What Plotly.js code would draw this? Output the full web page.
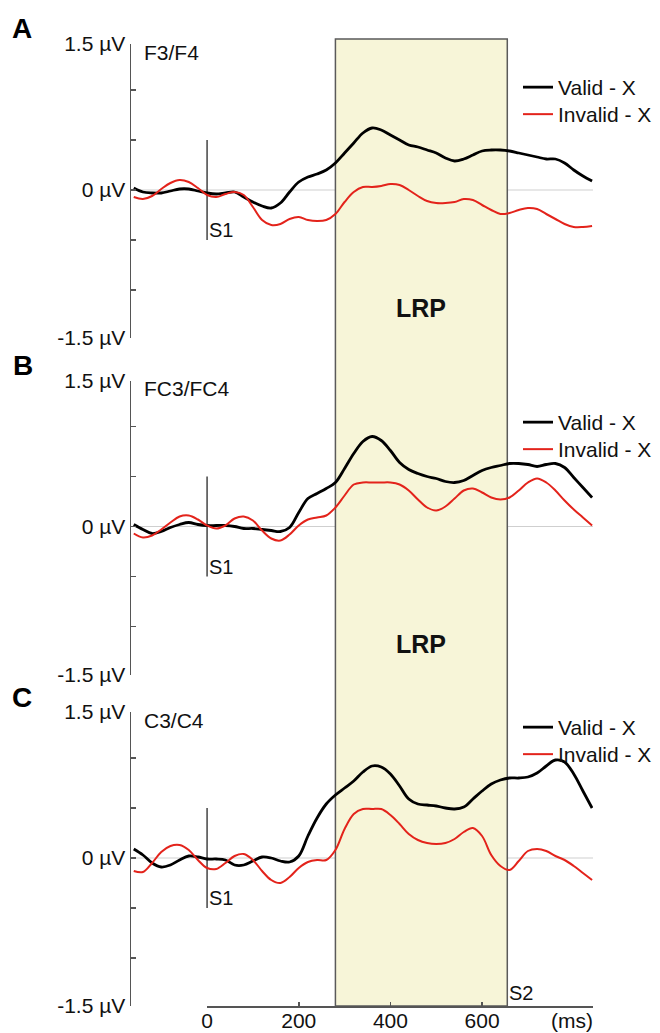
<!DOCTYPE html>
<html>
<head>
<meta charset="utf-8">
<script src="https://cdn.plot.ly/plotly-3.0.1.min.js"></script>
<style>
  html, body { margin: 0; padding: 0; background: #ffffff; }
  #chart { width: 660px; height: 1033px; }
</style>
</head>
<body>
<div id="chart"></div>
<script>
// ---------------- DATA ----------------
const timeMs = [-160,-140,-120,-100,-80,-60,-40,-20,0,20,40,60,80,100,120,140,160,180,200,220,
  240,260,280,300,320,340,360,380,400,420,440,460,480,500,520,540,560,580,600,620,
  640,660,680,700,720,740,760,780,800,820,840];

const panelNames = ["A", "B", "C"];
const channelNames = ["F3/F4", "FC3/FC4", "C3/C4"];
const seriesNames = ["Valid - X", "Invalid - X"];

// Panel A (F3/F4), µV
const validA = [0.02,-0.02,-0.03,-0.03,-0.01,0.01,0.01,-0.01,-0.03,-0.04,
  -0.03,-0.02,-0.07,-0.12,-0.16,-0.18,-0.13,-0.02,0.08,0.13,
  0.16,0.20,0.27,0.37,0.47,0.57,0.62,0.60,0.55,0.50,
  0.45,0.43,0.40,0.37,0.32,0.29,0.31,0.35,0.39,0.40,
  0.40,0.39,0.37,0.35,0.33,0.31,0.31,0.27,0.20,0.14,0.09];
const invalidA = [-0.07,-0.09,-0.06,0.01,0.07,0.10,0.08,0.02,-0.05,-0.07,
  -0.04,-0.02,-0.05,-0.17,-0.30,-0.35,-0.34,-0.29,-0.27,-0.30,
  -0.31,-0.30,-0.24,-0.12,-0.02,0.03,0.03,0.04,0.06,0.05,
  0.00,-0.06,-0.11,-0.13,-0.13,-0.12,-0.09,-0.10,-0.15,-0.20,
  -0.24,-0.23,-0.20,-0.18,-0.19,-0.24,-0.29,-0.34,-0.37,-0.37,-0.36];

// Panel B (FC3/FC4)
const validB = [0.02,-0.03,-0.07,-0.05,-0.01,0.02,0.04,0.02,0.01,0.01,
  0.01,0.00,-0.02,-0.02,-0.03,-0.04,-0.05,-0.01,0.14,0.28,
  0.33,0.38,0.44,0.58,0.73,0.85,0.90,0.86,0.76,0.64,
  0.57,0.53,0.50,0.48,0.45,0.44,0.46,0.51,0.56,0.59,
  0.61,0.63,0.63,0.62,0.60,0.62,0.63,0.59,0.49,0.39,0.29];
const invalidB = [-0.07,-0.11,-0.09,-0.03,0.04,0.10,0.11,0.07,0.01,-0.02,
  0.01,0.08,0.10,0.06,-0.04,-0.12,-0.14,-0.08,0.01,0.07,
  0.09,0.11,0.19,0.31,0.42,0.44,0.44,0.44,0.44,0.42,
  0.36,0.27,0.19,0.16,0.20,0.28,0.36,0.38,0.34,0.29,
  0.27,0.29,0.36,0.44,0.48,0.44,0.36,0.26,0.17,0.09,0.01];

// Panel C (C3/C4)
const validC = [0.09,0.03,-0.05,-0.09,-0.07,-0.02,0.02,0.01,-0.01,-0.01,
  -0.02,-0.07,-0.07,-0.03,0.01,0.00,-0.03,-0.04,0.02,0.22,
  0.40,0.54,0.63,0.70,0.77,0.86,0.92,0.91,0.84,0.72,
  0.59,0.54,0.53,0.52,0.50,0.49,0.51,0.59,0.67,0.74,
  0.78,0.80,0.80,0.81,0.85,0.92,0.98,0.96,0.84,0.67,0.50];
const invalidC = [-0.13,-0.14,-0.05,0.06,0.12,0.13,0.08,-0.02,-0.10,-0.11,
  -0.05,0.02,0.04,-0.02,-0.13,-0.22,-0.25,-0.19,-0.10,-0.04,
  -0.02,-0.02,0.08,0.29,0.44,0.49,0.49,0.49,0.43,0.34,
  0.24,0.18,0.15,0.14,0.15,0.19,0.26,0.30,0.22,0.03,
  -0.08,-0.12,-0.03,0.07,0.09,0.07,0.02,-0.02,-0.08,-0.15,-0.22];

const validSeries = [validA, validB, validC];
const invalidSeries = [invalidA, invalidB, invalidC];

const yTickVals = [-1.48, -1, -0.5, 0, 0.5, 1, 1.46];
const yTickText = ["-1.5 µV", "", "", "0 µV", "", "", "1.5 µV"];
const xTickVals = [0, 200, 400, 600];
const xTickText = ["0", "200", "400", "600"];
const xUnitLabel = "(ms)";
const s1Label = "S1", s2Label = "S2", windowLabel = "LRP";
const windowStart = 280, windowEnd = 655;   // ms (S2 at window end)

// ---------------- LAYOUT ----------------
const W = 660, H = 1033;
const px = v => v / W;
const py = v => 1 - v / H;
const FONT = "Liberation Sans, Arial, Helvetica, sans-serif";
const xLeft = 131, xRight = 593;
const xMin = -166, xMax = 842;
const xUnitPos = 796;
const yMin = -1.48, yMax = 1.46;
const zeroPix = [190, 526.5, 858];
const legendTopPix = [[67, 94], [402, 429], [707, 734]];  // top of each legend row
const pxPerUV = 100;
const axisColor = "#555555";
const x0Pix = xLeft + (0 - xMin) * (xRight - xLeft) / (xMax - xMin);

const traces = [];
const shapes = [];
const annotations = [];
const layout = {
  width: W, height: H,
  margin: {l: 0, r: 0, t: 0, b: 0},
  paper_bgcolor: "#ffffff",
  plot_bgcolor: "rgba(0,0,0,0)",
  font: {family: FONT, size: 21, color: "#111"},
  showlegend: true,
  xaxis: {
    domain: [px(xLeft), px(xRight)], range: [xMin, xMax],
    showline: false, showgrid: false, zeroline: false, ticks: "", showticklabels: false,
    anchor: "y3", fixedrange: true
  },
  // bottom time axis: line + tick marks
  xaxis2: {
    domain: [px(x0Pix), px(xRight)], range: [0, xMax], anchor: "y3",
    showline: true, linecolor: axisColor, linewidth: 1.5,
    ticks: "inside", ticklen: 4, tickwidth: 1.5, tickcolor: axisColor,
    tickmode: "array", tickvals: xTickVals.concat([xMax]), showticklabels: false,
    showgrid: false, zeroline: false, fixedrange: true
  },
  // bottom time axis: labels
  xaxis3: {
    domain: [px(x0Pix), px(xRight)], range: [0, xMax], anchor: "y3",
    showline: false, ticks: "", tickmode: "array",
    tickvals: xTickVals.concat([xUnitPos]), ticktext: xTickText.concat([xUnitLabel]),
    tickfont: {family: FONT, size: 21, color: "#111"},
    showgrid: false, zeroline: false, fixedrange: true
  }
};

// carrier traces so the bottom axes get drawn (no visible marks)
["x2", "x3"].forEach(xa => {
  traces.push({
    x: xTickVals, y: xTickVals.map(() => 0), xaxis: xa, yaxis: "y3",
    type: "scatter", mode: "markers", marker: {opacity: 0, size: 1},
    showlegend: false, hoverinfo: "skip"
  });
});

for (let i = 0; i < 3; i++) {
  const yName = i === 0 ? "y" : "y" + (i + 1);
  const yKey = i === 0 ? "yaxis" : "yaxis" + (i + 1);
  const lgValid = i === 0 ? "legend" : "legend" + (2 * i + 1);
  const lgInvalid = "legend" + (2 * i + 2);
  const z = zeroPix[i];
  const top = z - yMax * pxPerUV, bottom = z - yMin * pxPerUV;
  layout[yKey] = {
    domain: [py(bottom), py(top)], range: [yMin, yMax], anchor: "x",
    showline: true, linecolor: axisColor, linewidth: 1.5,
    ticks: "inside", ticklen: 5, tickwidth: 1.5, tickcolor: axisColor,
    tickmode: "array", tickvals: yTickVals, ticktext: yTickText,
    tickfont: {family: FONT, size: 21, color: "#111"},
    showgrid: false, zeroline: false, fixedrange: true
  };
  const legendBase = {
    x: px(518), xanchor: "left", xref: "paper", yanchor: "top", yref: "paper",
    bgcolor: "rgba(0,0,0,0)", borderwidth: 0,
    font: {family: FONT, size: 21, color: "#111"}
  };
  layout[lgValid] = Object.assign({}, legendBase, {y: py(legendTopPix[i][0])});
  layout[lgInvalid] = Object.assign({}, legendBase, {y: py(legendTopPix[i][1])});
  traces.push({
    x: timeMs, y: validSeries[i], type: "scatter", mode: "lines",
    name: seriesNames[0], xaxis: "x", yaxis: yName, legend: lgValid,
    line: {color: "#000000", width: 2.8, shape: "spline", smoothing: 1},
    hoverinfo: "skip"
  });
  traces.push({
    x: timeMs, y: invalidSeries[i], type: "scatter", mode: "lines",
    name: seriesNames[1], xaxis: "x", yaxis: yName, legend: lgInvalid,
    line: {color: "#e3231b", width: 2, shape: "spline", smoothing: 1},
    hoverinfo: "skip"
  });
  // zero reference line
  shapes.push({
    type: "line", layer: "below", xref: "paper", yref: yName,
    x0: px(xLeft), x1: px(xRight), y0: 0, y1: 0,
    line: {color: "#cfcfcf", width: 1.2}
  });
  // S1 marker
  shapes.push({
    type: "line", layer: "below", xref: "x", yref: yName,
    x0: 0, x1: 0, y0: -0.5, y1: 0.5,
    line: {color: "#444444", width: 1.5}
  });
  annotations.push({
    xref: "x", yref: yName, x: 0, y: -0.53, xanchor: "left", yanchor: "bottom",
    text: s1Label, showarrow: false, font: {family: FONT, size: 20, color: "#111"}
  });
  // channel label
  annotations.push({
    xref: "x", yref: yName, x: -142, y: 1.38, xanchor: "left", yanchor: "middle",
    text: channelNames[i], showarrow: false, font: {family: FONT, size: 21, color: "#111"}
  });
}

// LRP window
shapes.push({
  type: "rect", layer: "below", xref: "x", yref: "paper",
  x0: windowStart, x1: windowEnd, y0: py(zeroPix[2] - yMin * pxPerUV), y1: py(39),
  fillcolor: "#f7f5d8", line: {color: "#5a5a5a", width: 1.5}
});

// Panel letters
const letterPix = [[22, 28], [23, 365], [22, 697]];
panelNames.forEach((n, i) => {
  annotations.push({
    xref: "paper", yref: "paper", x: px(letterPix[i][0]), y: py(letterPix[i][1]),
    xanchor: "center", yanchor: "middle", text: "<b>" + n + "</b>", showarrow: false,
    font: {family: FONT, size: 28, color: "#000"}
  });
});

// LRP labels
[308, 644].forEach(yp => {
  annotations.push({
    xref: "x", yref: "paper", x: (windowStart + windowEnd) / 2, y: py(yp),
    xanchor: "center", yanchor: "middle", text: "<b>" + windowLabel + "</b>", showarrow: false,
    font: {family: FONT, size: 25, color: "#111"}
  });
});

// S2 label
annotations.push({
  xref: "x", yref: "y3", x: windowEnd, y: yMin, xanchor: "left", yanchor: "bottom",
  text: s2Label, showarrow: false, font: {family: FONT, size: 20, color: "#111"}
});

layout.shapes = shapes;
layout.annotations = annotations;

Plotly.newPlot("chart", traces, layout, {displayModeBar: false, staticPlot: true});
</script>
</body>
</html>
